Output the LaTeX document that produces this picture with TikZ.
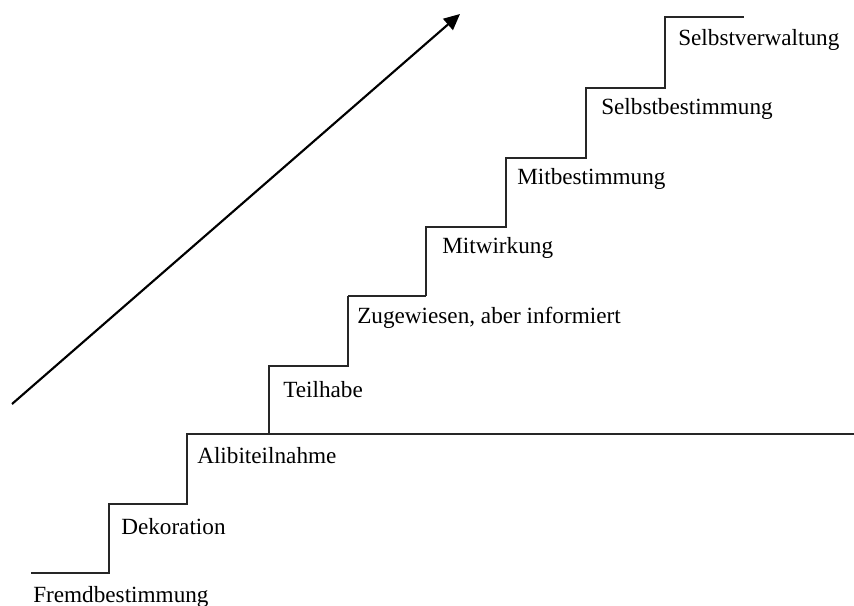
\documentclass[tikz,border=0pt]{standalone}
\usepackage{fontspec}
\setmainfont{Liberation Serif}
\usepackage{tikz}
\usetikzlibrary{arrows.meta}
\usetikzlibrary{positioning}
\tikzset{stufe/.style = {anchor=base west, inner sep=0pt,
                         font=\fontsize{17.4}{20}\selectfont},
         treppe/.style = {line width=0.9pt, black!85}}

\begin{document}
\begin{tikzpicture}[x=0.75pt, y=-0.75pt]
    \useasboundingbox (0, 0) rectangle (854, 606);
    % Treppe
    \draw [treppe] (31, 573) -- (109, 573) -- (109, 504) -- (187, 504) -- (187, 434)
        -- (854, 434);
    \draw [treppe] (269, 434) -- (269, 366) -- (348, 366) -- (348, 296);
    \draw [treppe, line width=1.4pt] (348, 296) -- (426, 296);
    \draw [treppe] (426, 296) -- (426, 227) -- (506, 227) -- (506, 158)
        -- (586, 158) -- (586, 88) -- (665, 88) -- (665, 17) -- (744, 17);
    % Stufen
    \node [stufe] (fremd) at (33, 602) {Fremdbestimmung};
    \node [stufe] (deko) at (121, 534) {Dekoration};
    \node [stufe] (alibi) at (197, 463) {Alibiteilnahme};
    \node [stufe] (teil) at (283, 397) {Teilhabe};
    \node [stufe] (zuge) at (357, 324) {Zugewiesen, aber informiert};
    \node [stufe] (mitw) at (442, 254) {Mitwirkung};
    \node [stufe] (mitb) at (517, 185) {Mitbestimmung};
    \node [stufe] (selbstb) at (601, 115) {Selbstbestimmung};
    \node [stufe] (selbstv) at (678, 46) {Selbstverwaltung};
    % Pfeil
    \coordinate (pfeilfuss) at (12, 404);
    \coordinate (pfeilspitze) at (460, 14);
    \draw [line width=1.6pt, -{Triangle[length=12pt, width=11pt]}] (pfeilfuss) -- (pfeilspitze);
\end{tikzpicture}
\end{document}
